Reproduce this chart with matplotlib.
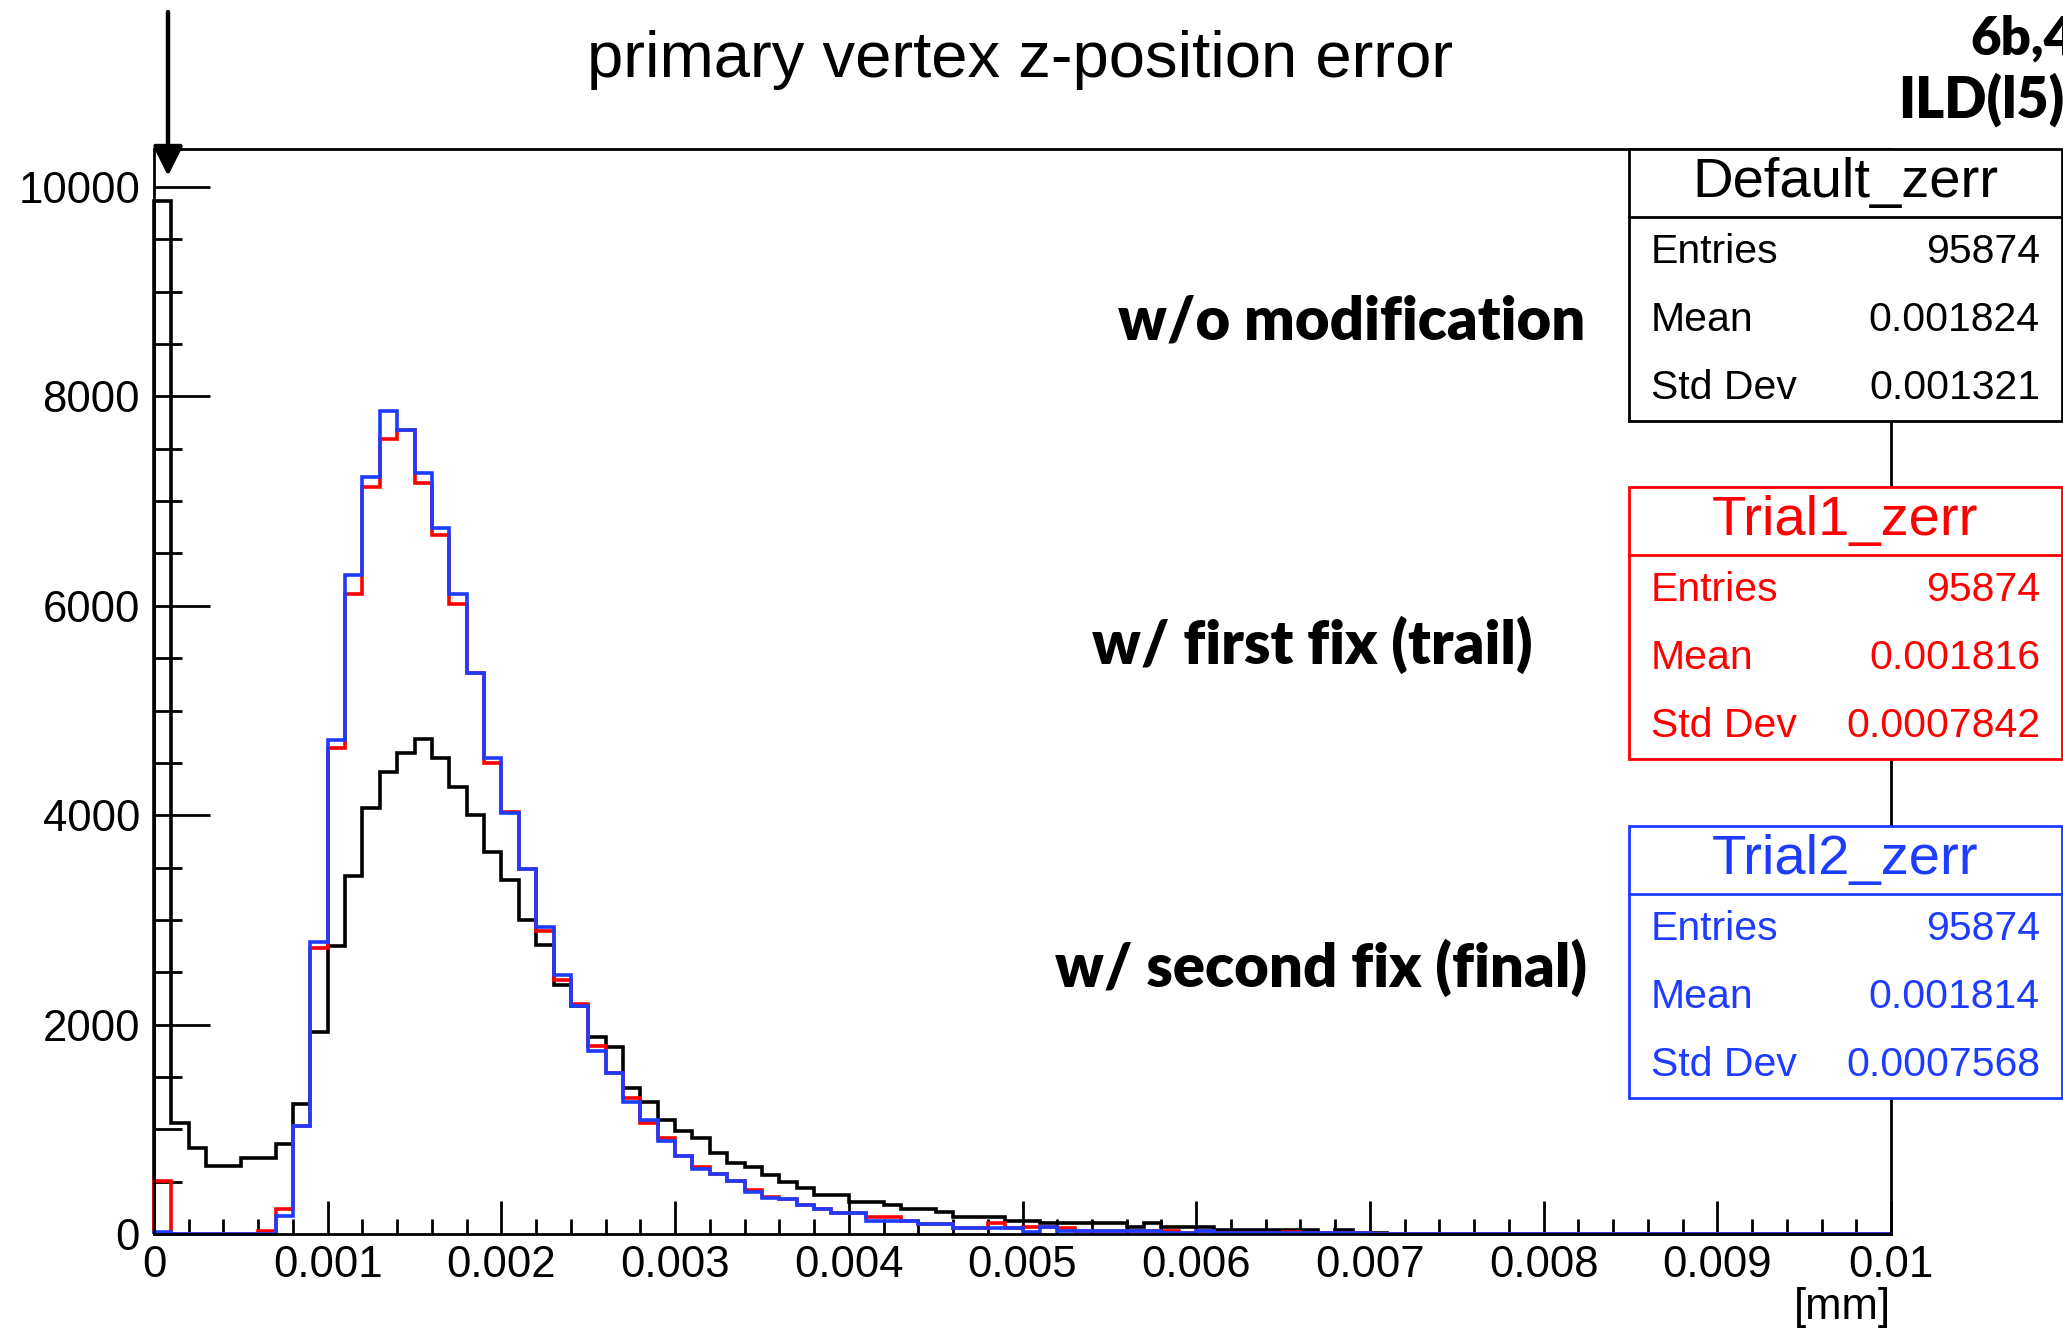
import numpy as np
import matplotlib
matplotlib.use('Agg')
import matplotlib.pyplot as plt
from matplotlib.patches import Rectangle, FancyArrowPatch
from matplotlib.lines import Line2D
from matplotlib.ticker import MultipleLocator

plt.rcParams['font.family'] = ['Liberation Sans', 'DejaVu Sans']

# z-position error histograms, 100 bins from 0 to 0.01 mm
bin_edges = np.linspace(0, 0.01, 101)

default_zerr = [9870, 1065, 820, 650, 650, 725, 725, 860, 1240, 1926,
                2750, 3420, 4070, 4410, 4590, 4730, 4550, 4270, 4005, 3650,
                3380, 3000, 2760, 2380, 2180, 1880, 1790, 1395, 1257, 1088,
                981, 918, 769, 674, 637, 568, 493, 440, 375, 375,
                309, 309, 277, 239, 239, 207, 166, 166, 166, 127,
                127, 102, 102, 102, 102, 102, 64, 102, 64, 64,
                70, 38, 38, 38, 38, 38, 38, 5, 38, 6,
                5, 4, 4, 3, 3, 3, 2, 2, 2, 2,
                1, 1, 1, 1, 1, 1, 1, 0, 1, 0,
                0, 1, 0, 0, 0, 0, 0, 0, 0, 0]

trial1_zerr = [510, 0, 0, 0, 0, 0, 30, 235, 1030, 2730,
               4640, 6110, 7135, 7590, 7680, 7170, 6680, 6020, 5360, 4495,
               4030, 3485, 2890, 2430, 2200, 1795, 1540, 1300, 1060, 920,
               745, 637, 570, 505, 424, 355, 335, 275, 239, 200,
               200, 166, 166, 127, 96, 96, 54, 54, 102, 54,
               70, 64, 57, 32, 32, 32, 32, 32, 32, 5,
               32, 12, 10, 10, 10, 20, 10, 8, 5, 5,
               4, 3, 3, 2, 2, 2, 1, 1, 1, 1,
               1, 1, 0, 1, 0, 0, 1, 0, 0, 0,
               0, 0, 0, 0, 0, 0, 0, 0, 0, 0]

trial2_zerr = [16, 0, 0, 0, 0, 0, 0, 170, 1030, 2785,
               4720, 6290, 7230, 7860, 7680, 7270, 6740, 6110, 5360, 4550,
               4020, 3485, 2930, 2475, 2175, 1750, 1540, 1265, 1090, 890,
               745, 620, 570, 505, 400, 345, 335, 275, 239, 200,
               200, 127, 127, 127, 96, 96, 54, 54, 54, 54,
               22, 64, 32, 32, 32, 32, 32, 32, 5, 5,
               32, 12, 10, 10, 10, 10, 10, 8, 5, 5,
               4, 3, 3, 2, 2, 2, 1, 1, 1, 1,
               1, 0, 0, 1, 0, 0, 0, 0, 0, 0,
               0, 0, 0, 0, 0, 0, 0, 0, 0, 0]

hist_names = ['Default_zerr', 'Trial1_zerr', 'Trial2_zerr']
hist_colors = ['black', '#ff0000', '#1e3cff']
stat_labels = ['Entries', 'Mean', 'Std Dev']
stat_values = [['95874', '0.001824', '0.001321'],
               ['95874', '0.001816', '0.0007842'],
               ['95874', '0.001814', '0.0007568']]
notes = ['w/o modification', 'w/ first fix (trail)', 'w/ second fix (final)']

W, H = 2063, 1332


def fx(x):
    return x / W


def fy(y):
    return 1 - y / H


fig = plt.figure(figsize=(W / 100, H / 100), dpi=100)
ax = fig.add_axes([fx(154), fy(1234), fx(1891) - fx(154), fy(149) - fy(1234)])

for vals, col in zip([default_zerr, trial1_zerr, trial2_zerr], hist_colors):
    ax.stairs(vals, bin_edges, color=col, lw=2.6, baseline=0, zorder=2, clip_on=False)

ax.set_xlim(0, 0.01)
ax.set_ylim(0, 1.05 * max(default_zerr))

ax.xaxis.set_major_locator(MultipleLocator(0.001))
ax.xaxis.set_minor_locator(MultipleLocator(0.0002))
ax.yaxis.set_major_locator(MultipleLocator(2000))
ax.yaxis.set_minor_locator(MultipleLocator(500))
ax.xaxis.set_major_formatter(plt.FuncFormatter(lambda v, p: f'{v:g}'))
ax.yaxis.set_major_formatter(plt.FuncFormatter(lambda v, p: f'{v:.0f}'))

ax.tick_params(axis='both', which='both', direction='in', width=2.0,
               top=False, right=False, labelsize=31.5, colors='black')
ax.tick_params(axis='y', which='major', length=40, pad=10)
ax.tick_params(axis='y', which='minor', length=20)
ax.tick_params(axis='x', which='major', length=24, pad=8)
ax.tick_params(axis='x', which='minor', length=11)
for sp in ax.spines.values():
    sp.set_linewidth(2.0)

fig.text(fx(1020), fy(60), 'primary vertex z-position error', ha='center', va='center',
         fontsize=47)
fig.text(fx(1891), fy(1307), '[mm]', ha='right', va='center', fontsize=31.5)

# statistics boxes
box_tops = [149, 487, 826]
box_h = 272
head_h = 68
for i in range(3):
    top = box_tops[i]
    col = hist_colors[i]
    fig.add_artist(Rectangle((fx(1629), fy(top + box_h)), fx(2062) - fx(1629), fy(top) - fy(top + box_h),
                             transform=fig.transFigure, facecolor='white', edgecolor=col,
                             lw=2.0, zorder=5))
    fig.add_artist(Line2D([fx(1629), fx(2062)], [fy(top + head_h), fy(top + head_h)],
                          transform=fig.transFigure, color=col, lw=2.0, zorder=6))
    fig.text(fx(1845), fy(top + 34), hist_names[i], ha='center', va='center',
             fontsize=40.5, color=col, zorder=7)
    for j in range(3):
        yy = top + 103 + j * 68
        fig.text(fx(1651), fy(yy), stat_labels[j], ha='left', va='center',
                 fontsize=29.5, color=col, zorder=7)
        fig.text(fx(2040), fy(yy), stat_values[i][j], ha='right', va='center',
                 fontsize=29.5, color=col, zorder=7)

# annotations
note_pos = [(1118, 322), (1092, 645), (1055, 968)]
for txt, (x, y) in zip(notes, note_pos):
    fig.text(fx(x), fy(y), txt, ha='left', va='center', fontsize=43,
             family=['Lato', 'DejaVu Sans'], weight='heavy')

fig.text(fx(1970), fy(40), '6b,4j', ha='left', va='center', fontsize=38,
         family=['Lato', 'DejaVu Sans'], weight='heavy')
fig.text(fx(1898), fy(100), 'ILD(l5)', ha='left', va='center', fontsize=40,
         family=['Lato', 'DejaVu Sans'], weight='heavy')

fig.add_artist(FancyArrowPatch((fx(168), fy(12)), (fx(168), fy(176)), transform=fig.transFigure,
                               arrowstyle='-|>', mutation_scale=45, lw=3.2, color='black',
                               shrinkA=0, shrinkB=0, zorder=8))

fig.savefig('out.png', dpi=100)
